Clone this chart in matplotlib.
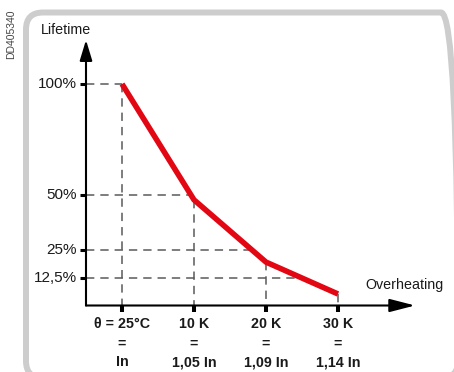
import matplotlib
matplotlib.use("Agg")
import matplotlib.pyplot as plt
from matplotlib.patches import FancyBboxPatch
from matplotlib.transforms import IdentityTransform
import numpy as np

plt.rcParams['font.family'] = ['Liberation Sans', 'DejaVu Sans']
plt.rcParams['lines.scale_dashes'] = False

# ---- data ----
overheat_k = [0, 10, 20, 30]
lifetime_pct = [100, 47.7, 19.6, 5.2]
ytick_vals = [100, 50, 25, 12.5]
ytick_labels = ["100%", "50%", "25%", "12,5%"]
xtick_labels = ["\u03b8 = 25\u00b0C\n=\nIn", "10 K\n=\n1,05 In", "20 K\n=\n1,09 In", "30 K\n=\n1,14 In"]

W, H, DPI = 454, 372, 100
fig = plt.figure(figsize=(W / DPI, H / DPI), dpi=DPI)
ax = fig.add_axes([0, 0, 1, 1])
ax.axis('off')

# pixel <-> data mapping
sx, ox = 7.2, 122.0     # px per K, px of 0 K
sy, oy = 2.215, 305.5   # px per %, px of 0 %
ax.set_xlim((0 - ox) / sx, (W - ox) / sx)
ax.set_ylim((oy - H) / sy, (oy - 0) / sy)

def dx(px):
    return px / sx

def dy(px):
    return px / sy

x0 = -dx(36)  # y-axis position
red = '#e30613'
dash_col = '#5a5a5a'

# frame
frame = FancyBboxPatch((26, -6), 432, 365.5, boxstyle="round,pad=0,rounding_size=17",
                       transform=IdentityTransform(), fill=False, edgecolor='#cdcdcd',
                       linewidth=4.3, clip_on=False)
ax.add_patch(frame)

# dashed guide lines
xs = np.array(overheat_k, dtype=float)
ys = np.array(lifetime_pct, dtype=float)
for v in ytick_vals:
    xe = np.interp(v, ys[::-1], xs[::-1])
    ax.plot([x0, xe], [v, v], color=dash_col, lw=1.1, dashes=(6, 4.3), zorder=2)
for xk, yk in zip(overheat_k, lifetime_pct):
    ax.plot([xk, xk], [yk, 0], color=dash_col, lw=1.1, dashes=(6, 4.3), zorder=2)

# red curve
ax.plot(overheat_k, lifetime_pct, color=red, lw=4.0, solid_capstyle='butt',
        solid_joinstyle='miter', zorder=4)

# axes with arrows
ax.annotate('', xy=(dx(415 - ox), 0), xytext=(x0, 0),
            arrowprops=dict(arrowstyle='-|>,head_length=1.55,head_width=0.4',
                            mutation_scale=10, lw=1.5, color='black',
                            shrinkA=0, shrinkB=0), zorder=5)
ax.annotate('', xy=(x0, dy(oy - 40)), xytext=(x0, 0),
            arrowprops=dict(arrowstyle='-|>,head_length=1.25,head_width=0.38',
                            mutation_scale=10, lw=1.5, color='black',
                            shrinkA=0, shrinkB=0), zorder=5)

# ticks
ax.hlines(ytick_vals, x0 - dx(6), x0, colors='black', lw=2.2, zorder=6)
ax.vlines(overheat_k, -dy(6), 0, colors='black', lw=2.9, zorder=6)

# tick labels
for v, lab in zip(ytick_vals, ytick_labels):
    ax.text(x0 - dx(9), v, lab, ha='right', va='center', fontsize=11, color='#1a1a1a')
for xk, lab in zip(overheat_k, xtick_labels):
    ax.text(xk, -dy(12), lab, ha='center', va='top', fontsize=10.3, fontweight='bold',
            color='#1a1a1a', linespacing=1.45)

# axis titles
ax.text(dx(66 - ox), dy(oy - 30), "Lifetime", ha='center', va='center', fontsize=10.3, color='#1a1a1a')
ax.text(dx(404 - ox), dy(oy - 285), "Overheating", ha='center', va='center', fontsize=10.3, color='#1a1a1a')

# reference code
ax.text(dx(11 - ox), dy(oy - 34), "DD405340", ha='center', va='center', rotation=90,
        fontsize=7.5, color='#444444')

fig.savefig("out.png", dpi=DPI, facecolor='white')
